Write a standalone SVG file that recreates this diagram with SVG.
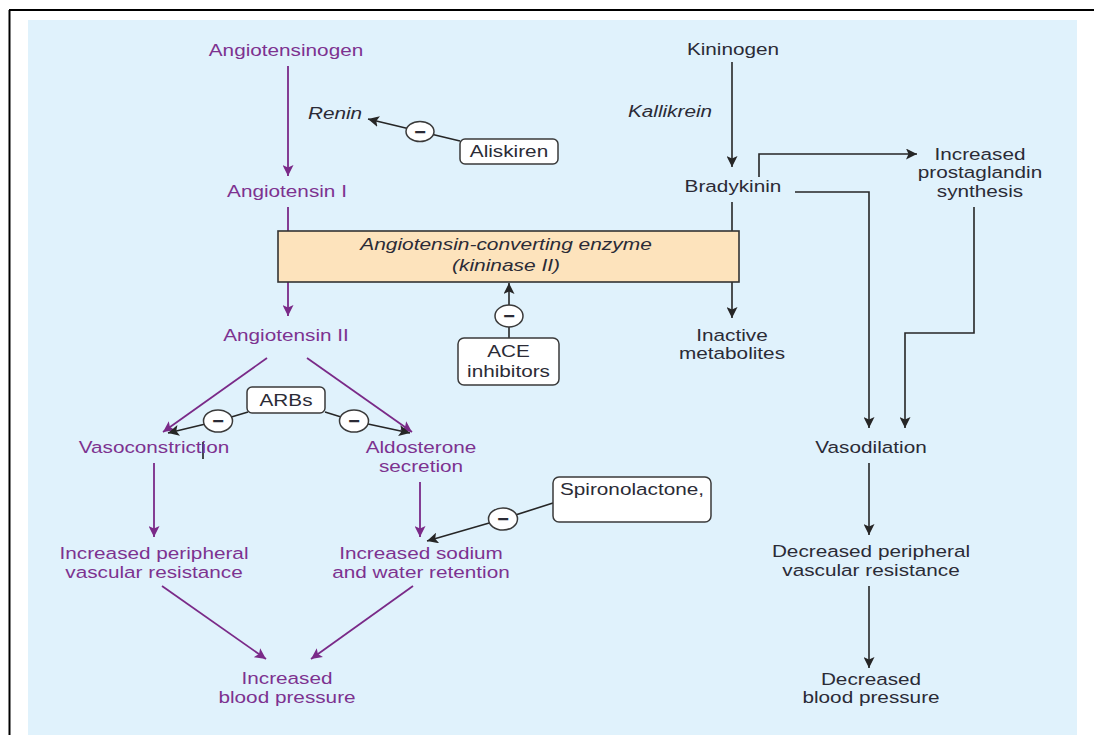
<svg xmlns="http://www.w3.org/2000/svg" width="1094" height="735" viewBox="0 0 1094 735">
<defs>
<style>
.t{font-family:"Liberation Sans",Arial,sans-serif;font-size:17px;text-anchor:middle}
.p{fill:#7d3290}
.k{fill:#2b2b36}
.i{font-style:italic}
.lp{stroke:#7a2a88;stroke-width:1.8;fill:none}
.lk{stroke:#262626;stroke-width:1.6;fill:none}
.box{fill:#ffffff;stroke:#3a3a3a;stroke-width:1.5}
.inh{fill:#ffffff;stroke:#3a3a3a;stroke-width:1.5}
.m{font-family:"Liberation Sans",Arial,sans-serif;font-size:20px;font-weight:bold;text-anchor:middle;fill:#2b2b36}
</style>
<marker id="ap" markerUnits="userSpaceOnUse" markerWidth="12" markerHeight="11" refX="11" refY="5.5" orient="auto"><path d="M0,0 L11,5.5 L0,11 L2.5,5.5 z" fill="#7a2a88"/></marker>
<marker id="ak" markerUnits="userSpaceOnUse" markerWidth="12" markerHeight="11" refX="11" refY="5.5" orient="auto"><path d="M0,0 L11,5.5 L0,11 L2.5,5.5 z" fill="#262626"/></marker>
</defs>
<rect x="28" y="20" width="1049" height="715" fill="#e0f2fc"/>
<path d="M9,10 H1094 M9.5,10 V735" stroke="#000" stroke-width="2" fill="none"/>

<g id="connectors">
<path class="lp" d="M288,66 V176" marker-end="url(#ap)"/>
<path class="lp" d="M288,207 V231"/>
<path class="lp" d="M288,282 V316" marker-end="url(#ap)"/>
<path class="lp" d="M267,358 L163,432" marker-end="url(#ap)"/>
<path class="lp" d="M307,358 L412,432" marker-end="url(#ap)"/>
<path class="lp" d="M154,463 V537" marker-end="url(#ap)"/>
<path class="lp" d="M420,482 V537" marker-end="url(#ap)"/>
<path class="lp" d="M162,586 L266,659" marker-end="url(#ap)"/>
<path class="lp" d="M413,586 L311,659" marker-end="url(#ap)"/>
<path class="lk" d="M460,141 L368,119" marker-end="url(#ak)"/>
<path class="lk" d="M509,338 V283" marker-end="url(#ak)"/>
<path class="lk" d="M248,412 L218,421 L168,433" marker-end="url(#ak)"/>
<path class="lk" d="M325,412 L354,421 L410,433" marker-end="url(#ak)"/>
<path class="lk" d="M553,503 L503,519 L427,541" marker-end="url(#ak)"/>
<path class="lk" d="M732,62 V167" marker-end="url(#ak)"/>
<path class="lk" d="M732,202 V231"/>
<path class="lk" d="M732,282 V318" marker-end="url(#ak)"/>
<path class="lk" d="M759,177 V154 H917" marker-end="url(#ak)"/>
<path class="lk" d="M795,192 H869 V428" marker-end="url(#ak)"/>
<path class="lk" d="M974,207 V333 H905 V428" marker-end="url(#ak)"/>
<path class="lk" d="M869,463 V535" marker-end="url(#ak)"/>
<path class="lk" d="M869,586 V668" marker-end="url(#ak)"/>
<path d="M203,442 V459" stroke="#111" stroke-width="1.5"/>
</g>

<g id="angiotensinogen"><text class="t p" transform="matrix(1.22 0 0 1 286 0)" x="0" y="56">Angiotensinogen</text></g>
<g id="renin"><text class="t k i" transform="matrix(1.22 0 0 1 335 0)" x="0" y="119">Renin</text></g>
<g id="aliskiren-inh"><ellipse class="inh" cx="420" cy="131.5" rx="14" ry="10"/><text class="m" x="420" y="138.5">−</text></g>
<g id="aliskiren"><rect class="box" x="460" y="139" width="98" height="25" rx="5"/><text class="t k" transform="matrix(1.22 0 0 1 509 0)" x="0" y="157">Aliskiren</text></g>
<g id="angiotensin1"><text class="t p" transform="matrix(1.22 0 0 1 287 0)" x="0" y="197">Angiotensin I</text></g>
<g id="ace"><rect x="278" y="231" width="461" height="51" fill="#fde3bc" stroke="#333" stroke-width="1.6"/><text class="t k i" transform="matrix(1.23 0 0 1 506 0)" x="0" y="250"><tspan x="0">Angiotensin-converting enzyme</tspan><tspan x="0" dy="21">(kininase II)</tspan></text></g>
<g id="angiotensin2"><text class="t p" transform="matrix(1.22 0 0 1 286 0)" x="0" y="341">Angiotensin II</text></g>
<g id="ace-inh-circle"><ellipse class="inh" cx="509" cy="316" rx="14" ry="11"/><text class="m" x="509" y="323">−</text></g>
<g id="ace-inhibitors"><rect class="box" x="458" y="338" width="101" height="47" rx="6"/><text class="t k" transform="matrix(1.22 0 0 1 508.5 0)" x="0" y="357"><tspan x="0">ACE</tspan><tspan x="0" dy="20">inhibitors</tspan></text></g>
<g id="arbs"><rect class="box" x="247" y="387" width="78" height="26" rx="5"/><text class="t k" transform="matrix(1.22 0 0 1 286 0)" x="0" y="406">ARBs</text></g>
<g id="arb-inh-left"><ellipse class="inh" cx="218" cy="421" rx="14.5" ry="11"/><text class="m" x="218" y="428">−</text></g>
<g id="arb-inh-right"><ellipse class="inh" cx="354" cy="421" rx="14.5" ry="11"/><text class="m" x="354" y="428">−</text></g>
<g id="vasoconstriction"><text class="t p" transform="matrix(1.22 0 0 1 154 0)" x="0" y="453">Vasoconstriction</text></g>
<g id="aldosterone"><text class="t p" transform="matrix(1.22 0 0 1 421 0)" x="0" y="453"><tspan x="0">Aldosterone</tspan><tspan x="0" dy="19">secretion</tspan></text></g>
<g id="spironolactone"><rect class="box" x="553" y="477" width="158" height="45" rx="6"/><text class="t k" transform="matrix(1.22 0 0 1 632 0)" x="0" y="495">Spironolactone,</text></g>
<g id="spiro-inh"><ellipse class="inh" cx="503" cy="519" rx="14.5" ry="11"/><text class="m" x="503" y="526">−</text></g>
<g id="inc-pvr"><text class="t p" transform="matrix(1.22 0 0 1 154 0)" x="0" y="559"><tspan x="0">Increased peripheral</tspan><tspan x="0" dy="19">vascular resistance</tspan></text></g>
<g id="inc-sodium"><text class="t p" transform="matrix(1.22 0 0 1 421 0)" x="0" y="559"><tspan x="0">Increased sodium</tspan><tspan x="0" dy="19">and water retention</tspan></text></g>
<g id="inc-bp"><text class="t p" transform="matrix(1.22 0 0 1 287 0)" x="0" y="684"><tspan x="0">Increased</tspan><tspan x="0" dy="19">blood pressure</tspan></text></g>
<g id="kininogen"><text class="t k" transform="matrix(1.22 0 0 1 733 0)" x="0" y="55">Kininogen</text></g>
<g id="kallikrein"><text class="t k i" transform="matrix(1.22 0 0 1 670 0)" x="0" y="117">Kallikrein</text></g>
<g id="bradykinin"><text class="t k" transform="matrix(1.22 0 0 1 733 0)" x="0" y="192">Bradykinin</text></g>
<g id="inactive"><text class="t k" transform="matrix(1.22 0 0 1 732 0)" x="0" y="341"><tspan x="0">Inactive</tspan><tspan x="0" dy="18">metabolites</tspan></text></g>
<g id="prostaglandin"><text class="t k" transform="matrix(1.22 0 0 1 980 0)" x="0" y="160"><tspan x="0">Increased</tspan><tspan x="0" dy="18.5">prostaglandin</tspan><tspan x="0" dy="18.5">synthesis</tspan></text></g>
<g id="vasodilation"><text class="t k" transform="matrix(1.22 0 0 1 871 0)" x="0" y="453">Vasodilation</text></g>
<g id="dec-pvr"><text class="t k" transform="matrix(1.22 0 0 1 871 0)" x="0" y="557"><tspan x="0">Decreased peripheral</tspan><tspan x="0" dy="19">vascular resistance</tspan></text></g>
<g id="dec-bp"><text class="t k" transform="matrix(1.22 0 0 1 871 0)" x="0" y="685"><tspan x="0">Decreased</tspan><tspan x="0" dy="18">blood pressure</tspan></text></g>
</svg>
